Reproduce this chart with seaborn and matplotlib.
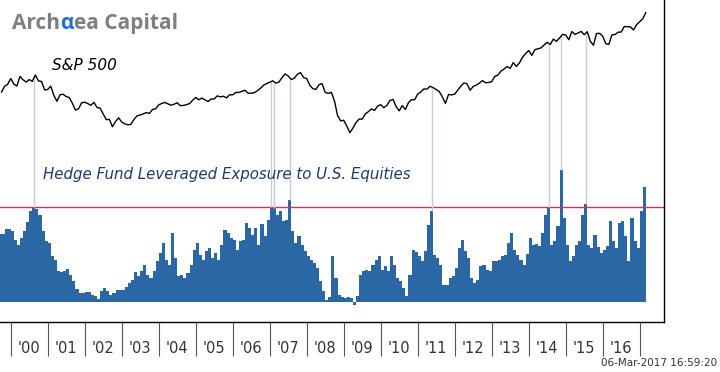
import numpy as np
import matplotlib
matplotlib.use("Agg")
import matplotlib.pyplot as plt
import seaborn as sns

# monthly values, Sep 1999 .. Feb 2017
sp500 = [
    1282.7, 1362.9, 1388.9, 1469.3,
    1394.5, 1366.4, 1498.6, 1452.4, 1420.6, 1454.6, 1430.8, 1517.7, 1436.5, 1429.4, 1315.2, 1320.3,
    1366.0, 1239.9, 1160.3, 1249.5, 1255.8, 1224.4, 1211.2, 1133.6, 1040.9, 1059.8, 1139.5, 1148.1,
    1130.2, 1106.7, 1147.4, 1076.9, 1067.1, 989.8, 911.6, 916.1, 815.3, 885.8, 936.3, 879.8,
    855.7, 841.2, 848.2, 916.9, 963.6, 974.5, 990.3, 1008.0, 996.0, 1050.7, 1058.2, 1111.9,
    1131.1, 1144.9, 1126.2, 1107.3, 1120.7, 1140.8, 1101.7, 1104.2, 1114.6, 1130.2, 1173.8, 1211.9,
    1181.3, 1203.6, 1180.6, 1156.9, 1191.5, 1191.3, 1234.2, 1220.3, 1228.8, 1207.0, 1249.5, 1248.3,
    1280.1, 1280.7, 1294.9, 1310.6, 1270.1, 1270.2, 1276.7, 1303.8, 1335.9, 1377.9, 1400.6, 1418.3,
    1438.2, 1406.8, 1420.9, 1482.4, 1530.6, 1503.4, 1455.3, 1474.0, 1526.8, 1549.4, 1481.1, 1468.4,
    1378.6, 1330.6, 1322.7, 1385.6, 1400.4, 1280.0, 1267.4, 1282.8, 1166.4, 968.8, 896.2, 903.3,
    825.9, 735.1, 797.9, 872.8, 919.1, 919.3, 987.5, 1020.6, 1057.1, 1036.2, 1095.6, 1115.1,
    1073.9, 1104.5, 1169.4, 1186.7, 1089.4, 1030.7, 1101.6, 1049.3, 1141.2, 1183.3, 1180.6, 1257.6,
    1286.1, 1327.2, 1325.8, 1363.6, 1345.2, 1320.6, 1292.3, 1218.9, 1131.4, 1253.3, 1247.0, 1257.6,
    1312.4, 1365.7, 1408.5, 1397.9, 1310.3, 1362.2, 1379.3, 1406.6, 1440.7, 1412.2, 1416.2, 1426.2,
    1498.1, 1514.7, 1569.2, 1597.6, 1630.7, 1606.3, 1685.7, 1633.0, 1681.6, 1756.5, 1805.8, 1848.4,
    1782.6, 1859.5, 1872.3, 1884.0, 1923.6, 1960.2, 1930.7, 2003.4, 1972.3, 2018.1, 2067.6, 2058.9,
    1995.0, 2104.5, 2067.9, 2085.5, 2107.4, 2063.1, 2103.8, 1972.2, 1920.0, 2079.4, 2080.4, 2043.9,
    1940.2, 1932.2, 2059.7, 2065.3, 2096.9, 2098.9, 2173.6, 2171.0, 2168.3, 2126.2, 2198.8, 2238.8,
    2278.9, 2363.6,
]

exposure = [
    68, 68, 73, 73, 71, 62, 57, 64, 71, 80, 91, 95,
    93, 87, 71, 61, 59, 46, 42, 31, 30, 31, 33, 27,
    21, 13, 9, 9, 10, 10, 7, 6, 3, 11, 14, 11,
    7, 9, 12, 12, 12, 15, 19, 22, 30, 26, 31, 37,
    27, 24, 31, 41, 49, 59, 42, 37, 69, 44, 26, 27,
    24, 29, 37, 52, 59, 47, 42, 51, 54, 44, 49, 42,
    57, 72, 69, 64, 62, 52, 61, 62, 79, 74, 67, 74,
    57, 78, 66, 82, 95, 94, 87, 91, 81, 82, 102, 71,
    59, 66, 57, 51, 46, 42, 39, 34, 21, 11, 2, 5,
    46, 24, 7, 5, 4, 5, 4, -3, 6, 27, 31, 32,
    31, 37, 42, 46, 32, 36, 31, 46, 37, 24, 21, 14,
    6, 27, 52, 50, 46, 41, 51, 77, 91, 47, 44, 37,
    17, 17, 24, 26, 34, 54, 62, 51, 44, 24, 19, 22,
    36, 37, 32, 31, 41, 41, 42, 46, 47, 59, 69, 52,
    47, 42, 37, 48, 64, 57, 58, 56, 69, 87, 95, 57,
    61, 76, 132, 84, 57, 41, 46, 57, 61, 87, 98, 57,
    54, 67, 55, 49, 52, 56, 81, 61, 54, 79, 81, 66,
    41, 84, 61, 54, 91, 115,
]

threshold = 95
peak_months = [11, 88, 89, 94, 140, 178, 182, 190]

years = list(range(2000, 2017))
year_labels = ["'00", "'01", "'02", "'03", "'04", "'05", "'06", "'07", "'08",
               "'09", "'10", "'11", "'12", "'13", "'14", "'15", "'16"]
stamp = "06-Mar-2017 16:59:20"

sns.set_style("white")
plt.rcParams["font.family"] = ["DejaVu Sans"]

n = len(exposure)
bar_x = 1999 + (8 + np.arange(n) + 0.5) / 12
edges = 1999 + (8 + np.arange(n + 1)) / 12
sp_x = 1999 + (9 + np.arange(len(sp500))) / 12

fig = plt.figure(figsize=(7.2, 3.72), dpi=100)
ax = fig.add_axes([0, 50 / 372, 663.7 / 720, 322 / 372])

ax.stairs(exposure, edges, fill=True, color="#2b67a5", linewidth=0)
ax.axhline(threshold, color="#d0345e", lw=1)

xlim = (1999.711, 2017.649)
lo1, hi1 = -19.7, 302.3
ax.set_xlim(xlim)
ax.set_ylim(lo1, hi1)
ax.set_yticks([])

ax2 = ax.twinx()
sns.lineplot(x=sp_x, y=sp500, ax=ax2, color="black", linewidth=1.0)
lo2, hi2 = -1830, 2533
ax2.set_ylim(lo2, hi2)
ax2.set_xlim(xlim)
ax2.axis("off")

# thin guides from S&P level down to the exposure peaks
for k in peak_months:
    bottom = lo2 + (exposure[k] - lo1) / (hi1 - lo1) * (hi2 - lo2)
    ax2.vlines(bar_x[k], bottom, sp500[k], color="#c8cade", lw=1, zorder=0)

for s in ["top", "left"]:
    ax.spines[s].set_visible(False)
for s in ["right", "bottom"]:
    ax.spines[s].set_color("black")
    ax.spines[s].set_linewidth(1)

ax.set_xticks(years + [2017])
ax.set_xticklabels([""] * (len(years) + 1))
ax.set_xticks([y + 0.5 for y in years], minor=True)
ax.set_xticklabels(year_labels, minor=True, family=["Liberation Sans Narrow", "DejaVu Sans"])
ax.tick_params(axis="x", which="both", bottom=True)
ax.tick_params(axis="x", which="major", length=24.5, width=0.8, color="#555555", direction="out")
ax.tick_params(axis="x", which="minor", length=0, pad=14, labelsize=10.5, labelcolor="#333333")

fig.text(52 / 720, 1 - 66 / 372, "S&P 500", fontsize=11, style="italic", va="center", color="black")
fig.text(43 / 720, 1 - 174 / 372, "Hedge Fund Leveraged Exposure to U.S. Equities",
         fontsize=10.8, style="italic", va="center", color="#1f3a6b")
fig.text(717 / 720, 1 - 363 / 372, stamp, ha="right", va="center", fontsize=7.5,
         family=["Liberation Sans Narrow", "DejaVu Sans"], color="#333333")

tfont = dict(fontsize=15, fontweight="bold", family=["Open Sans", "DejaVu Sans"])
t1 = fig.text(12 / 720, 1 - 29 / 372, "Arch", color="#7f7f7f", va="baseline", **tfont)
t2 = plt.annotate("\u03b1", xy=(1, 0), xycoords=t1, color="#1f6fd6", ha="left",
                  va="bottom", **tfont)
t3 = plt.annotate("ea Capital", xy=(1, 0), xycoords=t2, color="#7f7f7f", ha="left",
                  va="bottom", **tfont)

fig.savefig("out.png", dpi=100)
